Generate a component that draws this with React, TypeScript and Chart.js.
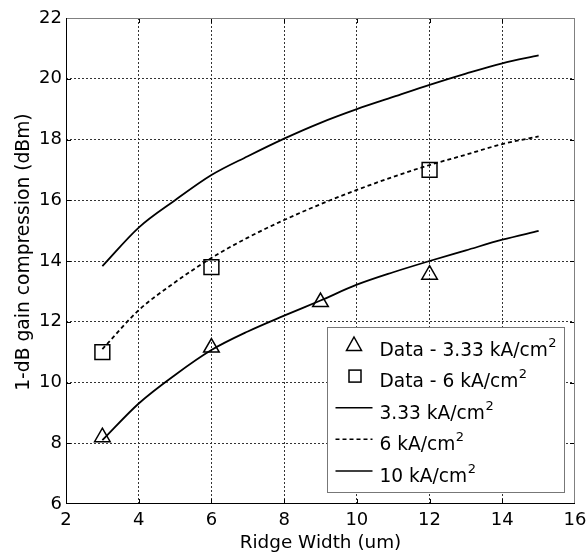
import React, { useEffect, useRef } from 'react';
import { Chart, registerables } from 'chart.js';

Chart.register(...registerables);

// ---- data ----
const ridgeWidths = [3, 4, 5, 6, 7, 8, 9, 10, 11, 12, 13, 14, 15];
const fit333 = [8.1, 9.31, 10.25, 11.07, 11.68, 12.2, 12.7, 13.22, 13.63, 14.0, 14.35, 14.7, 14.99];
const fit6 = [11.1, 12.38, 13.3, 14.1, 14.77, 15.35, 15.87, 16.34, 16.77, 17.16, 17.5, 17.85, 18.1];
const fit10 = [13.83, 15.1, 16.0, 16.83, 17.45, 18.03, 18.55, 19.0, 19.4, 19.8, 20.17, 20.51, 20.77];

const data333X = [3, 6, 9, 12];
const data333Y = [8.2, 11.15, 12.65, 13.55];
const data6X = [3, 6, 12];
const data6Y = [11.0, 13.8, 17.0];

const xTickValues = [2, 4, 6, 8, 10, 12, 14, 16];
const yTickValues = [6, 8, 10, 12, 14, 16, 18, 20, 22];

const legendLabels = ['Data - 3.33 kA/cm', 'Data - 6 kA/cm', '3.33 kA/cm', '6 kA/cm', '10 kA/cm'];
const xTitle = 'Ridge Width (um)';
const yTitle = '   1-dB gain compression (dBm)';

const FONT = '"DejaVu Sans", "Liberation Sans", Arial, sans-serif';

const toPts = (xs: number[], ys: number[]) => xs.map((x, i) => ({ x, y: ys[i] }));

const framePlugin = {
  id: 'frame',
  afterDatasetsDraw(chart: any) {
    const { ctx, chartArea } = chart;
    const { left, right, top, bottom } = chartArea;
    const xs = chart.scales.x;
    const ys = chart.scales.y;
    ctx.save();
    ctx.setLineDash([]);
    ctx.lineWidth = 1;
    ctx.strokeStyle = '#000';
    xTickValues.forEach((v, i) => {
      if (i === 0 || i === xTickValues.length - 1) return;
      const px = Math.round(xs.getPixelForValue(v)) + 0.5;
      ctx.beginPath();
      ctx.moveTo(px, bottom);
      ctx.lineTo(px, bottom - 5);
      ctx.moveTo(px, top);
      ctx.lineTo(px, top + 5);
      ctx.stroke();
    });
    yTickValues.forEach((v, i) => {
      if (i === 0 || i === yTickValues.length - 1) return;
      const py = Math.round(ys.getPixelForValue(v)) + 0.5;
      ctx.beginPath();
      ctx.moveTo(left, py);
      ctx.lineTo(left + 5, py);
      ctx.moveTo(right, py);
      ctx.lineTo(right - 5, py);
      ctx.stroke();
    });
    ctx.strokeStyle = '#808080';
    ctx.beginPath();
    ctx.moveTo(left, top + 0.5);
    ctx.lineTo(right, top + 0.5);
    ctx.moveTo(right - 0.5, top);
    ctx.lineTo(right - 0.5, bottom);
    ctx.stroke();
    ctx.strokeStyle = '#000';
    ctx.beginPath();
    ctx.moveTo(left + 0.5, top);
    ctx.lineTo(left + 0.5, bottom);
    ctx.moveTo(left, bottom - 0.5);
    ctx.lineTo(right, bottom - 0.5);
    ctx.stroke();
    ctx.restore();
  },
};

const legendPlugin = {
  id: 'customLegend',
  afterDraw(chart: any) {
    const { ctx, chartArea } = chart;
    const w = 237;
    const h = 165;
    const bx = Math.round(chartArea.right - 11 - w) + 0.5;
    const by = Math.round(chartArea.bottom - 12 - h) + 0.5;
    ctx.save();
    ctx.setLineDash([]);
    ctx.fillStyle = '#fff';
    ctx.fillRect(bx, by, w, h);
    ctx.strokeStyle = '#777';
    ctx.lineWidth = 1;
    ctx.strokeRect(bx, by, w, h);

    legendLabels.forEach((label, i) => {
      const base = by + 28 + 31.6 * i;
      const tx = bx + 52;
      ctx.strokeStyle = '#000';
      ctx.lineWidth = 1.5;
      if (i === 0) {
        const cx = bx + 26.5;
        ctx.beginPath();
        ctx.moveTo(cx, base - 18.5);
        ctx.lineTo(cx + 7.5, base - 5);
        ctx.lineTo(cx - 7.5, base - 5);
        ctx.closePath();
        ctx.stroke();
      } else if (i === 1) {
        const cx = bx + 27.5;
        const cy = base - 11;
        ctx.strokeRect(cx - 6, cy - 6, 12, 12);
      } else {
        ctx.setLineDash(i === 3 ? [4, 3] : []);
        ctx.beginPath();
        ctx.moveTo(bx + 8, base - 11);
        ctx.lineTo(bx + 45, base - 11);
        ctx.stroke();
        ctx.setLineDash([]);
      }
      ctx.fillStyle = '#000';
      ctx.textBaseline = 'alphabetic';
      ctx.textAlign = 'left';
      ctx.font = `18.6px ${FONT}`;
      ctx.fillText(label, tx, base);
      const tw = ctx.measureText(label).width;
      ctx.font = `13px ${FONT}`;
      ctx.fillText('2', tx + tw + 0.5, base - 9);
    });
    ctx.restore();
  },
};

export default function App() {
  const ref = useRef<HTMLCanvasElement | null>(null);

  useEffect(() => {
    if (!ref.current) return;
    const gridColor = (c: any) =>
      c.index === 0 || c.index === (c.scale.ticks.length - 1) ? 'rgba(0,0,0,0)' : '#333';
    const chart = new Chart(ref.current, {
      type: 'line',
      data: {
        datasets: [
          {
            label: legendLabels[0],
            data: toPts(data333X, data333Y),
            showLine: false,
            pointStyle: 'triangle',
            pointRadius: 9,
            pointBorderWidth: 1.5,
            pointBorderColor: '#000',
            pointBackgroundColor: 'rgba(0,0,0,0)',
            borderColor: '#000',
          },
          {
            label: legendLabels[1],
            data: toPts(data6X, data6Y),
            showLine: false,
            pointStyle: 'rect',
            pointRadius: 10.5,
            pointBorderWidth: 1.5,
            pointBorderColor: '#000',
            pointBackgroundColor: 'rgba(0,0,0,0)',
            borderColor: '#000',
          },
          {
            label: legendLabels[2],
            data: toPts(ridgeWidths, fit333),
            borderColor: '#000',
            borderWidth: 1.8,
            pointRadius: 0,
            cubicInterpolationMode: 'monotone',
          },
          {
            label: legendLabels[3],
            data: toPts(ridgeWidths, fit6),
            borderColor: '#000',
            borderWidth: 1.8,
            borderDash: [4, 3],
            pointRadius: 0,
            cubicInterpolationMode: 'monotone',
          },
          {
            label: legendLabels[4],
            data: toPts(ridgeWidths, fit10),
            borderColor: '#000',
            borderWidth: 1.8,
            pointRadius: 0,
            cubicInterpolationMode: 'monotone',
          },
        ],
      },
      options: {
        responsive: false,
        animation: false,
        layout: { padding: { top: 18, right: 11, bottom: 0, left: 0 } },
        plugins: {
          legend: { display: false },
          tooltip: { enabled: false },
        },
        scales: {
          x: {
            type: 'linear',
            min: 2,
            max: 16,
            afterBuildTicks: (s: any) => {
              s.ticks = xTickValues.map((v) => ({ value: v }));
            },
            afterFit: (s: any) => {
              s.height = 48;
              s.paddingLeft = 0;
              s.paddingRight = 0;
            },
            grid: {
              color: gridColor,
              lineWidth: 1,
              drawTicks: false,
            },
            border: { display: false, dash: [2, 2] },
            ticks: {
              color: '#000',
              font: { family: FONT, size: 18 },
              padding: 6,
              maxRotation: 0,
              autoSkip: false,
            },
            title: {
              display: true,
              text: xTitle,
              color: '#000',
              font: { family: FONT, size: 18.4, lineHeight: 1 },
              padding: { top: 0, bottom: 0 },
            },
          },
          y: {
            type: 'linear',
            min: 6,
            max: 22,
            afterBuildTicks: (s: any) => {
              s.ticks = yTickValues.map((v) => ({ value: v }));
            },
            afterFit: (s: any) => {
              s.width = 66;
              s.paddingTop = 0;
              s.paddingBottom = 0;
            },
            grid: {
              color: gridColor,
              lineWidth: 1,
              drawTicks: false,
            },
            border: { display: false, dash: [2, 2] },
            ticks: {
              color: '#000',
              font: { family: FONT, size: 18 },
              padding: 4,
              autoSkip: false,
            },
            title: {
              display: true,
              text: yTitle,
              color: '#000',
              font: { family: FONT, size: 18.7, lineHeight: 1 },
              padding: { top: 15, bottom: 0 },
            },
          },
        },
      } as any,
      plugins: [framePlugin, legendPlugin],
    });
    return () => chart.destroy();
  }, []);

  return (
    <div style={{ position: 'absolute', left: 0, top: 0, width: 587, height: 552, background: '#fff' }}>
      <canvas ref={ref} width={587} height={552} style={{ display: 'block' }} />
    </div>
  );
}
